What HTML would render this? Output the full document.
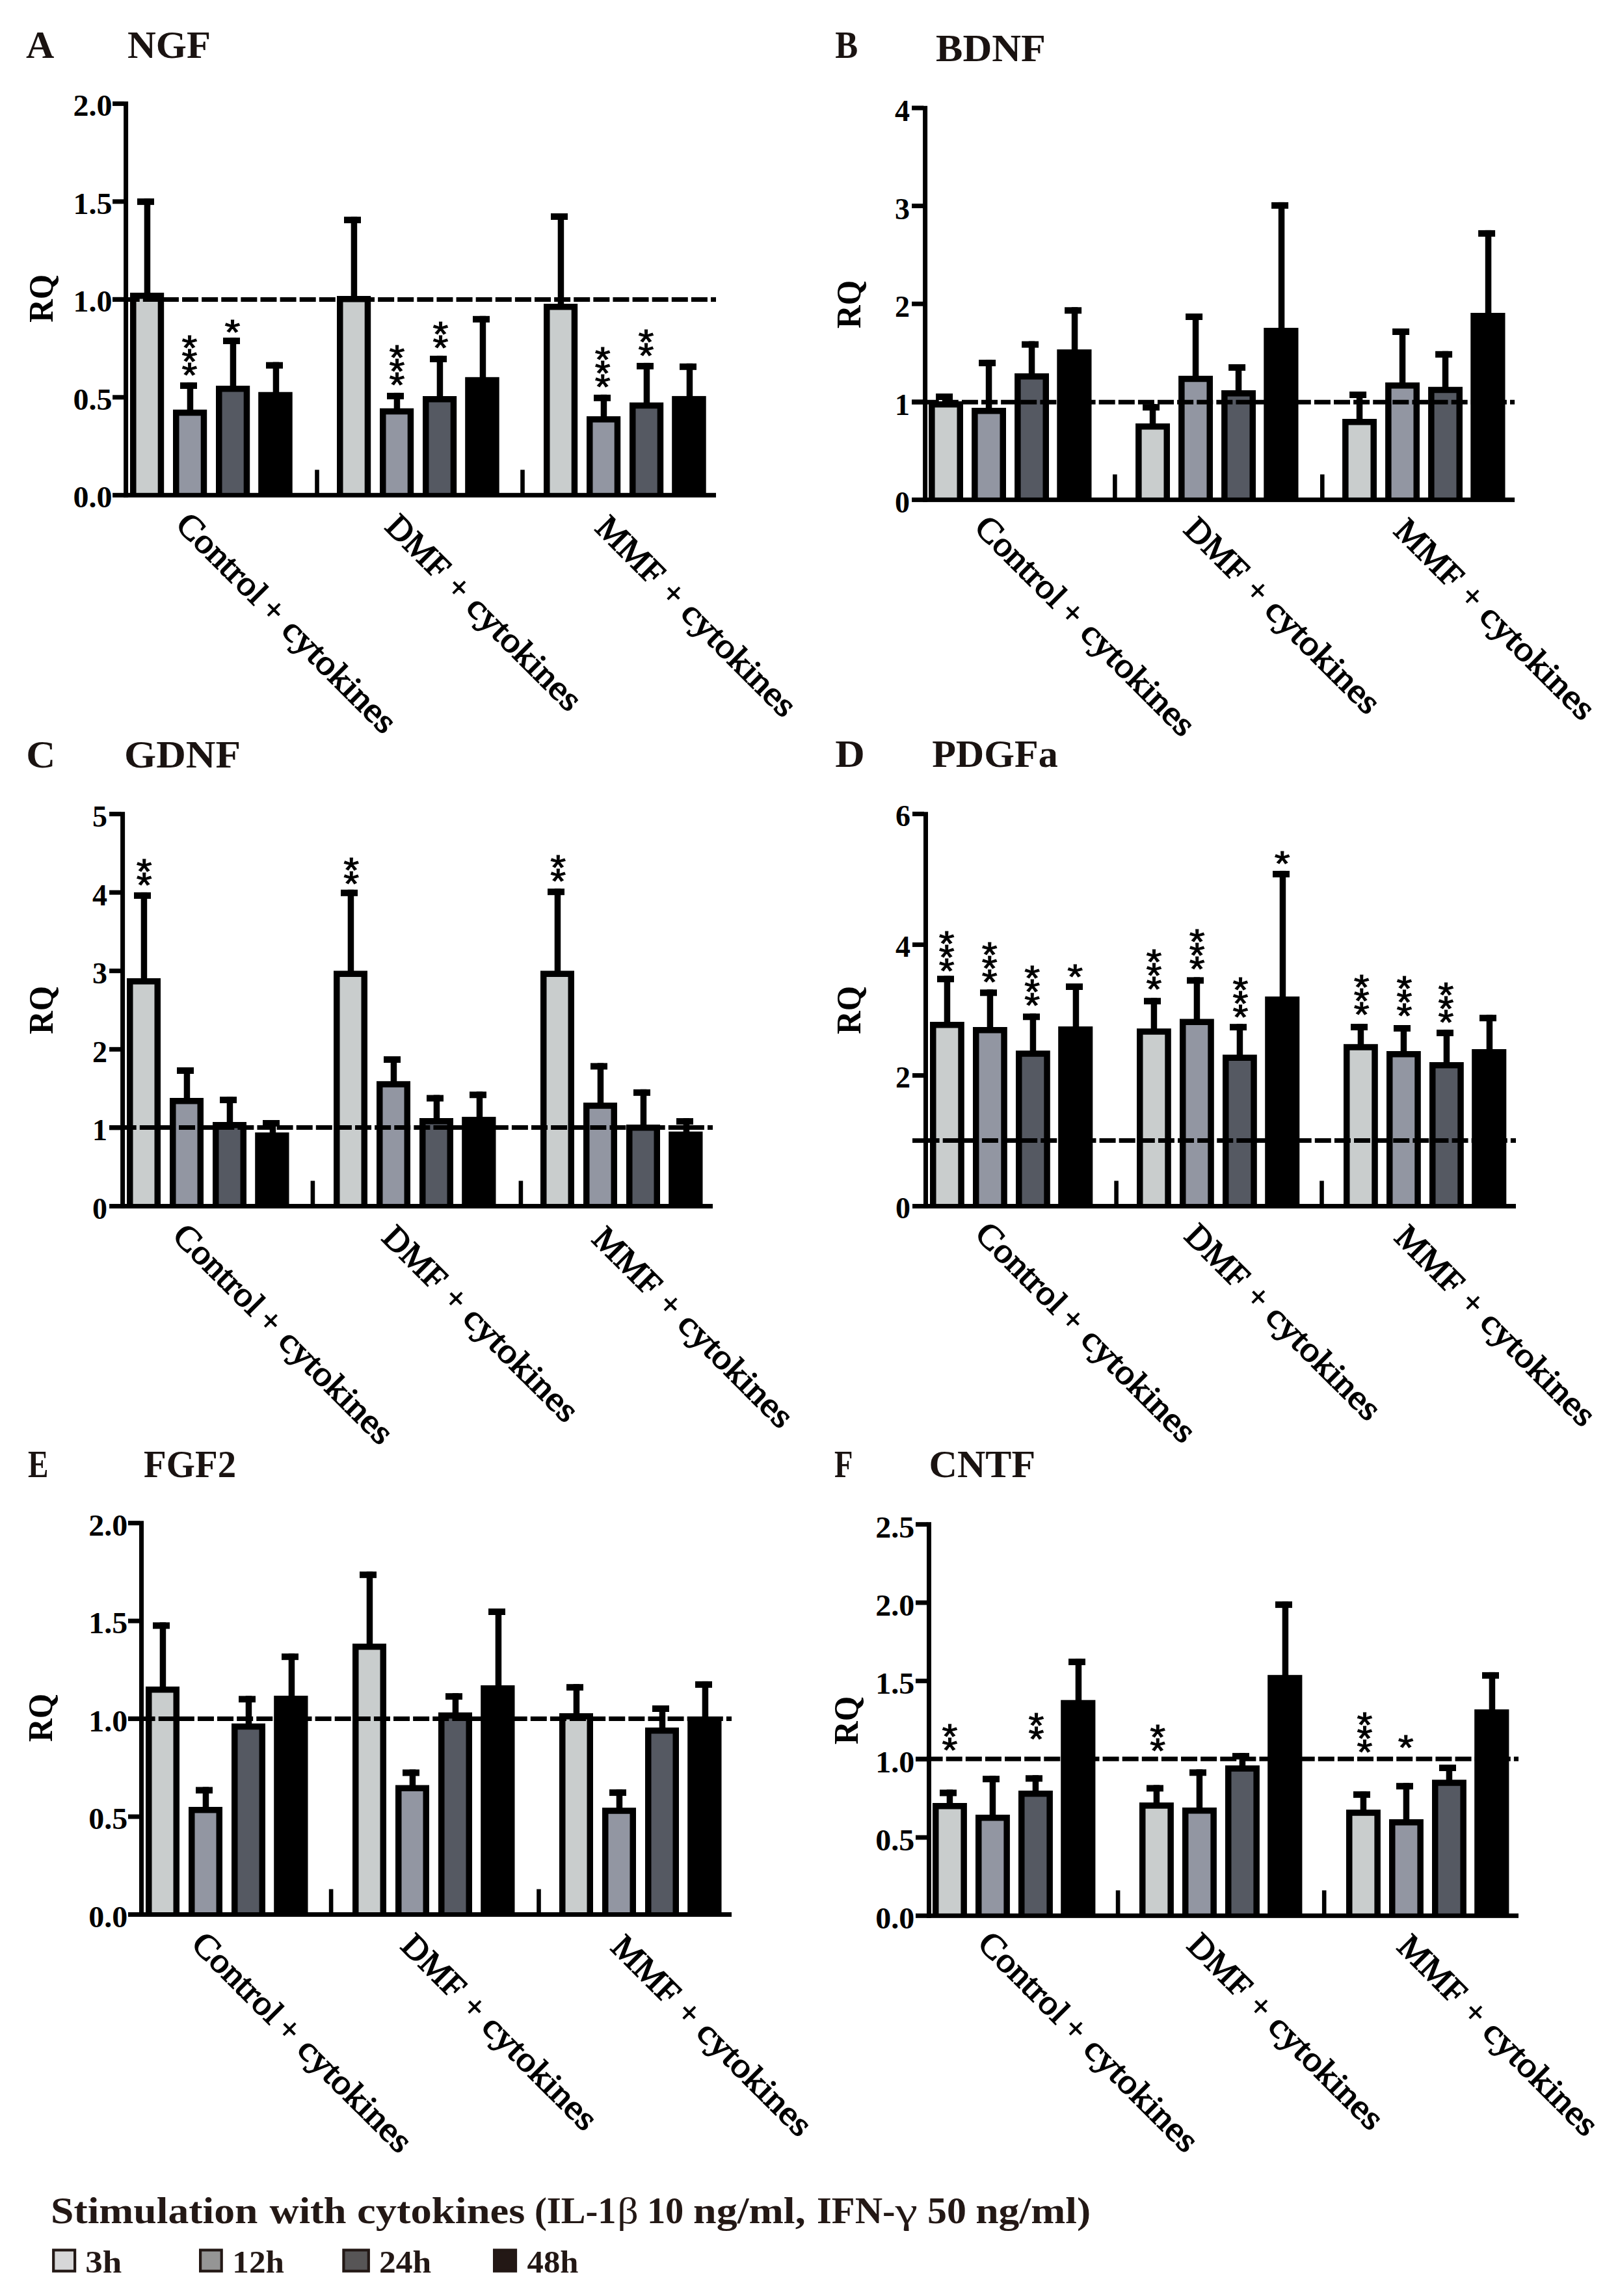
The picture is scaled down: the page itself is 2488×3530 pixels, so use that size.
<!DOCTYPE html>
<html><head><meta charset="utf-8"><title>Figure</title>
<style>
html,body{margin:0;padding:0;background:#fff;}
svg{display:block;}
text{font-family:"Liberation Serif", "DejaVu Serif", serif;font-weight:bold;}
.n{font-weight:normal;}
.xl text{font-weight:normal;stroke:#000;stroke-width:1.5px;}
.st{font-family:"Liberation Sans","DejaVu Sans",sans-serif;font-weight:normal;stroke:#000;stroke-width:1.1px;stroke-linejoin:miter;}
</style></head><body>
<svg width="2488" height="3530" viewBox="0 0 2488 3530" fill="#000">
<rect width="2488" height="3530" fill="#fff"/>
<rect x="221.70" y="305.10" width="9.5" height="147.00"/>
<rect x="211.00" y="305.10" width="26.0" height="10.0"/>
<rect x="204.75" y="454.85" width="42.7" height="306.45" fill="#C9CDCD"/>
<path d="M204.75 761.30V454.85H247.45V761.30" fill="none" stroke="#000" stroke-width="9.5"/>
<rect x="287.70" y="587.90" width="9.5" height="43.80"/>
<rect x="277.00" y="587.90" width="26.0" height="10.0"/>
<rect x="270.75" y="634.45" width="42.7" height="126.85" fill="#9296A2"/>
<path d="M270.75 761.30V634.45H313.45V761.30" fill="none" stroke="#000" stroke-width="9.5"/>
<rect x="353.70" y="519.10" width="9.5" height="76.00"/>
<rect x="343.00" y="519.10" width="26.0" height="10.0"/>
<rect x="336.75" y="597.85" width="42.7" height="163.45" fill="#555962"/>
<path d="M336.75 761.30V597.85H379.45V761.30" fill="none" stroke="#000" stroke-width="9.5"/>
<rect x="419.70" y="556.70" width="9.5" height="48.00"/>
<rect x="409.00" y="556.70" width="26.0" height="10.0"/>
<rect x="397.20" y="602.70" width="52.5" height="158.60"/>
<rect x="539.70" y="333.20" width="9.5" height="123.70"/>
<rect x="529.00" y="333.20" width="26.0" height="10.0"/>
<rect x="522.75" y="459.65" width="42.7" height="301.65" fill="#C9CDCD"/>
<path d="M522.75 761.30V459.65H565.45V761.30" fill="none" stroke="#000" stroke-width="9.5"/>
<rect x="605.70" y="603.90" width="9.5" height="25.80"/>
<rect x="595.00" y="603.90" width="26.0" height="10.0"/>
<rect x="588.75" y="632.45" width="42.7" height="128.85" fill="#9296A2"/>
<path d="M588.75 761.30V632.45H631.45V761.30" fill="none" stroke="#000" stroke-width="9.5"/>
<rect x="671.70" y="546.90" width="9.5" height="64.00"/>
<rect x="661.00" y="546.90" width="26.0" height="10.0"/>
<rect x="654.75" y="613.65" width="42.7" height="147.65" fill="#555962"/>
<path d="M654.75 761.30V613.65H697.45V761.30" fill="none" stroke="#000" stroke-width="9.5"/>
<rect x="737.70" y="485.80" width="9.5" height="96.00"/>
<rect x="727.00" y="485.80" width="26.0" height="10.0"/>
<rect x="715.20" y="579.80" width="52.5" height="181.50"/>
<rect x="857.70" y="328.00" width="9.5" height="141.10"/>
<rect x="847.00" y="328.00" width="26.0" height="10.0"/>
<rect x="840.75" y="471.85" width="42.7" height="289.45" fill="#C9CDCD"/>
<path d="M840.75 761.30V471.85H883.45V761.30" fill="none" stroke="#000" stroke-width="9.5"/>
<rect x="923.70" y="606.80" width="9.5" height="35.20"/>
<rect x="913.00" y="606.80" width="26.0" height="10.0"/>
<rect x="906.75" y="644.75" width="42.7" height="116.55" fill="#9296A2"/>
<path d="M906.75 761.30V644.75H949.45V761.30" fill="none" stroke="#000" stroke-width="9.5"/>
<rect x="989.70" y="557.90" width="9.5" height="62.80"/>
<rect x="979.00" y="557.90" width="26.0" height="10.0"/>
<rect x="972.75" y="623.45" width="42.7" height="137.85" fill="#555962"/>
<path d="M972.75 761.30V623.45H1015.45V761.30" fill="none" stroke="#000" stroke-width="9.5"/>
<rect x="1055.70" y="558.80" width="9.5" height="52.10"/>
<rect x="1045.00" y="558.80" width="26.0" height="10.0"/>
<rect x="1033.20" y="608.90" width="52.5" height="152.40"/>
<rect x="190.10" y="156.00" width="7.0" height="608.80"/>
<rect x="190.10" y="757.80" width="910.90" height="7.0"/>
<rect x="484.20" y="722.30" width="6.6" height="39"/>
<rect x="800.20" y="722.30" width="6.6" height="39"/>
<rect x="173.10" y="155.90" width="18" height="7.0"/>
<text x="172.50" y="178.40" font-size="46" text-anchor="end" textLength="60" lengthAdjust="spacingAndGlyphs">2.0</text>
<rect x="173.10" y="306.38" width="18" height="7.0"/>
<text x="172.50" y="328.88" font-size="46" text-anchor="end" textLength="60" lengthAdjust="spacingAndGlyphs">1.5</text>
<rect x="173.10" y="456.85" width="18" height="7.0"/>
<text x="172.50" y="479.35" font-size="46" text-anchor="end" textLength="60" lengthAdjust="spacingAndGlyphs">1.0</text>
<rect x="173.10" y="607.32" width="18" height="7.0"/>
<text x="172.50" y="629.82" font-size="46" text-anchor="end" textLength="60" lengthAdjust="spacingAndGlyphs">0.5</text>
<rect x="173.10" y="757.80" width="18" height="7.0"/>
<text x="172.50" y="780.30" font-size="46" text-anchor="end" textLength="60" lengthAdjust="spacingAndGlyphs">0.0</text>
<rect x="173.10" y="456.90" width="18" height="7"/>
<line x1="189.70" y1="460.40" x2="1101.00" y2="460.40" stroke="#000" stroke-width="7" stroke-dasharray="25 5.11"/>
<text transform="translate(291.40,553.25) scale(1.06,0.931)" font-size="58" text-anchor="middle" class="st">*</text>
<text transform="translate(291.40,574.25) scale(1.06,0.931)" font-size="58" text-anchor="middle" class="st">*</text>
<text transform="translate(291.40,595.25) scale(1.06,0.931)" font-size="58" text-anchor="middle" class="st">*</text>
<text transform="translate(357.50,528.55) scale(1.06,0.931)" font-size="58" text-anchor="middle" class="st">*</text>
<text transform="translate(610.40,568.35) scale(1.06,0.931)" font-size="58" text-anchor="middle" class="st">*</text>
<text transform="translate(610.40,589.35) scale(1.06,0.931)" font-size="58" text-anchor="middle" class="st">*</text>
<text transform="translate(610.40,610.35) scale(1.06,0.931)" font-size="58" text-anchor="middle" class="st">*</text>
<text transform="translate(677.50,531.95) scale(1.06,0.931)" font-size="58" text-anchor="middle" class="st">*</text>
<text transform="translate(677.50,552.95) scale(1.06,0.931)" font-size="58" text-anchor="middle" class="st">*</text>
<text transform="translate(926.70,571.15) scale(1.06,0.931)" font-size="58" text-anchor="middle" class="st">*</text>
<text transform="translate(926.70,592.15) scale(1.06,0.931)" font-size="58" text-anchor="middle" class="st">*</text>
<text transform="translate(926.70,613.15) scale(1.06,0.931)" font-size="58" text-anchor="middle" class="st">*</text>
<text transform="translate(993.50,544.45) scale(1.06,0.931)" font-size="58" text-anchor="middle" class="st">*</text>
<text transform="translate(993.50,565.45) scale(1.06,0.931)" font-size="58" text-anchor="middle" class="st">*</text>
<text transform="translate(80.90,495.80) rotate(-90)" font-size="53" textLength="74" lengthAdjust="spacingAndGlyphs">RQ</text>
<text x="40" y="88.7" font-size="60" fill="#1a1311">A</text>
<text x="196" y="88.7" font-size="60" fill="#1a1311" textLength="128" lengthAdjust="spacingAndGlyphs">NGF</text>
<g transform="translate(268.00,809.00) rotate(45)" font-size="52.5" class="xl"><text x="0" y="0" textLength="174" lengthAdjust="spacingAndGlyphs">Control</text><text x="185.7" y="0" textLength="27" lengthAdjust="spacingAndGlyphs">+</text><text x="230.0" y="0" textLength="224.5" lengthAdjust="spacingAndGlyphs">cytokines</text></g>
<g transform="translate(590.00,812.00) rotate(45)" font-size="52.5" class="xl"><text x="0" y="0" textLength="115.5" lengthAdjust="spacingAndGlyphs">DMF</text><text x="133.0" y="0" textLength="27" lengthAdjust="spacingAndGlyphs">+</text><text x="176.0" y="0" textLength="226" lengthAdjust="spacingAndGlyphs">cytokines</text></g>
<g transform="translate(913.00,814.00) rotate(45)" font-size="52.5" class="xl"><text x="0" y="0" textLength="125.5" lengthAdjust="spacingAndGlyphs">MMF</text><text x="143.0" y="0" textLength="27" lengthAdjust="spacingAndGlyphs">+</text><text x="186.0" y="0" textLength="226" lengthAdjust="spacingAndGlyphs">cytokines</text></g>
<rect x="1449.80" y="605.00" width="9.5" height="14.00"/>
<rect x="1439.10" y="605.00" width="26.0" height="10.0"/>
<rect x="1432.85" y="621.75" width="43.4" height="146.65" fill="#C9CDCD"/>
<path d="M1432.85 768.40V621.75H1476.25V768.40" fill="none" stroke="#000" stroke-width="9.5"/>
<rect x="1515.80" y="553.10" width="9.5" height="75.80"/>
<rect x="1505.10" y="553.10" width="26.0" height="10.0"/>
<rect x="1498.85" y="631.65" width="43.4" height="136.75" fill="#9296A2"/>
<path d="M1498.85 768.40V631.65H1542.25V768.40" fill="none" stroke="#000" stroke-width="9.5"/>
<rect x="1581.80" y="524.60" width="9.5" height="51.30"/>
<rect x="1571.10" y="524.60" width="26.0" height="10.0"/>
<rect x="1564.85" y="578.65" width="43.4" height="189.75" fill="#555962"/>
<path d="M1564.85 768.40V578.65H1608.25V768.40" fill="none" stroke="#000" stroke-width="9.5"/>
<rect x="1647.80" y="472.30" width="9.5" height="66.90"/>
<rect x="1637.10" y="472.30" width="26.0" height="10.0"/>
<rect x="1625.30" y="537.20" width="53.199999999999996" height="231.20"/>
<rect x="1767.80" y="621.20" width="9.5" height="31.80"/>
<rect x="1757.10" y="621.20" width="26.0" height="10.0"/>
<rect x="1750.85" y="655.75" width="43.4" height="112.65" fill="#C9CDCD"/>
<path d="M1750.85 768.40V655.75H1794.25V768.40" fill="none" stroke="#000" stroke-width="9.5"/>
<rect x="1833.80" y="482.00" width="9.5" height="97.80"/>
<rect x="1823.10" y="482.00" width="26.0" height="10.0"/>
<rect x="1816.85" y="582.55" width="43.4" height="185.85" fill="#9296A2"/>
<path d="M1816.85 768.40V582.55H1860.25V768.40" fill="none" stroke="#000" stroke-width="9.5"/>
<rect x="1899.80" y="560.00" width="9.5" height="42.00"/>
<rect x="1889.10" y="560.00" width="26.0" height="10.0"/>
<rect x="1882.85" y="604.75" width="43.4" height="163.65" fill="#555962"/>
<path d="M1882.85 768.40V604.75H1926.25V768.40" fill="none" stroke="#000" stroke-width="9.5"/>
<rect x="1965.80" y="310.90" width="9.5" height="195.10"/>
<rect x="1955.10" y="310.90" width="26.0" height="10.0"/>
<rect x="1943.30" y="504.00" width="53.199999999999996" height="264.40"/>
<rect x="2085.80" y="602.00" width="9.5" height="44.00"/>
<rect x="2075.10" y="602.00" width="26.0" height="10.0"/>
<rect x="2068.85" y="648.75" width="43.4" height="119.65" fill="#C9CDCD"/>
<path d="M2068.85 768.40V648.75H2112.25V768.40" fill="none" stroke="#000" stroke-width="9.5"/>
<rect x="2151.80" y="505.00" width="9.5" height="85.00"/>
<rect x="2141.10" y="505.00" width="26.0" height="10.0"/>
<rect x="2134.85" y="592.75" width="43.4" height="175.65" fill="#9296A2"/>
<path d="M2134.85 768.40V592.75H2178.25V768.40" fill="none" stroke="#000" stroke-width="9.5"/>
<rect x="2217.80" y="539.80" width="9.5" height="56.90"/>
<rect x="2207.10" y="539.80" width="26.0" height="10.0"/>
<rect x="2200.85" y="599.45" width="43.4" height="168.95" fill="#555962"/>
<path d="M2200.85 768.40V599.45H2244.25V768.40" fill="none" stroke="#000" stroke-width="9.5"/>
<rect x="2283.80" y="353.90" width="9.5" height="129.10"/>
<rect x="2273.10" y="353.90" width="26.0" height="10.0"/>
<rect x="2261.30" y="481.00" width="53.199999999999996" height="287.40"/>
<rect x="1419.10" y="162.80" width="7.0" height="609.10"/>
<rect x="1419.10" y="764.90" width="910.00" height="7.0"/>
<rect x="1711.10" y="729.40" width="6.6" height="39"/>
<rect x="2030.00" y="729.40" width="6.6" height="39"/>
<rect x="1402.10" y="162.50" width="18" height="7.0"/>
<text x="1399.00" y="185.90" font-size="46" text-anchor="end">4</text>
<rect x="1402.10" y="313.10" width="18" height="7.0"/>
<text x="1399.00" y="336.50" font-size="46" text-anchor="end">3</text>
<rect x="1402.10" y="463.70" width="18" height="7.0"/>
<text x="1399.00" y="487.10" font-size="46" text-anchor="end">2</text>
<rect x="1402.10" y="614.30" width="18" height="7.0"/>
<text x="1399.00" y="637.70" font-size="46" text-anchor="end">1</text>
<rect x="1402.10" y="764.90" width="18" height="7.0"/>
<text x="1399.00" y="788.30" font-size="46" text-anchor="end">0</text>
<rect x="1402.10" y="614.85" width="18" height="7"/>
<line x1="1418.70" y1="618.35" x2="2329.10" y2="618.35" stroke="#000" stroke-width="7" stroke-dasharray="25 5.11"/>
<text transform="translate(1323.00,504.90) rotate(-90)" font-size="53" textLength="74" lengthAdjust="spacingAndGlyphs">RQ</text>
<text x="1284.2" y="88.6" font-size="60" fill="#1a1311" textLength="35" lengthAdjust="spacingAndGlyphs">B</text>
<text x="1439" y="94.2" font-size="60" fill="#1a1311" textLength="169" lengthAdjust="spacingAndGlyphs">BDNF</text>
<g transform="translate(1496.10,813.60) rotate(45)" font-size="52.5" class="xl"><text x="0" y="0" textLength="174" lengthAdjust="spacingAndGlyphs">Control</text><text x="185.7" y="0" textLength="27" lengthAdjust="spacingAndGlyphs">+</text><text x="230.0" y="0" textLength="224.5" lengthAdjust="spacingAndGlyphs">cytokines</text></g>
<g transform="translate(1818.10,816.60) rotate(45)" font-size="52.5" class="xl"><text x="0" y="0" textLength="115.5" lengthAdjust="spacingAndGlyphs">DMF</text><text x="133.0" y="0" textLength="27" lengthAdjust="spacingAndGlyphs">+</text><text x="176.0" y="0" textLength="226" lengthAdjust="spacingAndGlyphs">cytokines</text></g>
<g transform="translate(2141.10,818.60) rotate(45)" font-size="52.5" class="xl"><text x="0" y="0" textLength="125.5" lengthAdjust="spacingAndGlyphs">MMF</text><text x="143.0" y="0" textLength="27" lengthAdjust="spacingAndGlyphs">+</text><text x="186.0" y="0" textLength="226" lengthAdjust="spacingAndGlyphs">cytokines</text></g>
<rect x="216.70" y="1371.90" width="9.5" height="134.20"/>
<rect x="206.00" y="1371.90" width="26.0" height="10.0"/>
<rect x="199.75" y="1508.85" width="42.5" height="345.60" fill="#C9CDCD"/>
<path d="M199.75 1854.45V1508.85H242.25V1854.45" fill="none" stroke="#000" stroke-width="9.5"/>
<rect x="282.70" y="1641.00" width="9.5" height="49.00"/>
<rect x="272.00" y="1641.00" width="26.0" height="10.0"/>
<rect x="265.75" y="1692.75" width="42.5" height="161.70" fill="#9296A2"/>
<path d="M265.75 1854.45V1692.75H308.25V1854.45" fill="none" stroke="#000" stroke-width="9.5"/>
<rect x="348.70" y="1686.10" width="9.5" height="40.90"/>
<rect x="338.00" y="1686.10" width="26.0" height="10.0"/>
<rect x="331.75" y="1729.75" width="42.5" height="124.70" fill="#555962"/>
<path d="M331.75 1854.45V1729.75H374.25V1854.45" fill="none" stroke="#000" stroke-width="9.5"/>
<rect x="414.70" y="1722.00" width="9.5" height="21.10"/>
<rect x="404.00" y="1722.00" width="26.0" height="10.0"/>
<rect x="392.20" y="1741.10" width="52.3" height="113.35"/>
<rect x="534.70" y="1367.80" width="9.5" height="126.60"/>
<rect x="524.00" y="1367.80" width="26.0" height="10.0"/>
<rect x="517.75" y="1497.15" width="42.5" height="357.30" fill="#C9CDCD"/>
<path d="M517.75 1854.45V1497.15H560.25V1854.45" fill="none" stroke="#000" stroke-width="9.5"/>
<rect x="600.70" y="1624.00" width="9.5" height="40.20"/>
<rect x="590.00" y="1624.00" width="26.0" height="10.0"/>
<rect x="583.75" y="1666.95" width="42.5" height="187.50" fill="#9296A2"/>
<path d="M583.75 1854.45V1666.95H626.25V1854.45" fill="none" stroke="#000" stroke-width="9.5"/>
<rect x="666.70" y="1683.50" width="9.5" height="37.60"/>
<rect x="656.00" y="1683.50" width="26.0" height="10.0"/>
<rect x="649.75" y="1723.85" width="42.5" height="130.60" fill="#555962"/>
<path d="M649.75 1854.45V1723.85H692.25V1854.45" fill="none" stroke="#000" stroke-width="9.5"/>
<rect x="732.70" y="1678.30" width="9.5" height="40.80"/>
<rect x="722.00" y="1678.30" width="26.0" height="10.0"/>
<rect x="710.20" y="1717.10" width="52.3" height="137.35"/>
<rect x="852.70" y="1366.20" width="9.5" height="128.20"/>
<rect x="842.00" y="1366.20" width="26.0" height="10.0"/>
<rect x="835.75" y="1497.15" width="42.5" height="357.30" fill="#C9CDCD"/>
<path d="M835.75 1854.45V1497.15H878.25V1854.45" fill="none" stroke="#000" stroke-width="9.5"/>
<rect x="918.70" y="1634.40" width="9.5" height="62.90"/>
<rect x="908.00" y="1634.40" width="26.0" height="10.0"/>
<rect x="901.75" y="1700.05" width="42.5" height="154.40" fill="#9296A2"/>
<path d="M901.75 1854.45V1700.05H944.25V1854.45" fill="none" stroke="#000" stroke-width="9.5"/>
<rect x="984.70" y="1674.80" width="9.5" height="56.20"/>
<rect x="974.00" y="1674.80" width="26.0" height="10.0"/>
<rect x="967.75" y="1733.75" width="42.5" height="120.70" fill="#555962"/>
<path d="M967.75 1854.45V1733.75H1010.25V1854.45" fill="none" stroke="#000" stroke-width="9.5"/>
<rect x="1050.70" y="1719.10" width="9.5" height="22.60"/>
<rect x="1040.00" y="1719.10" width="26.0" height="10.0"/>
<rect x="1028.20" y="1739.70" width="52.3" height="114.75"/>
<rect x="185.10" y="1248.20" width="7.0" height="609.75"/>
<rect x="185.10" y="1850.95" width="910.90" height="7.0"/>
<rect x="477.60" y="1815.45" width="6.6" height="39"/>
<rect x="797.60" y="1815.45" width="6.6" height="39"/>
<rect x="168.10" y="1248.05" width="18" height="7.0"/>
<text x="164.90" y="1270.95" font-size="46" text-anchor="end">5</text>
<rect x="168.10" y="1368.63" width="18" height="7.0"/>
<text x="164.90" y="1391.53" font-size="46" text-anchor="end">4</text>
<rect x="168.10" y="1489.21" width="18" height="7.0"/>
<text x="164.90" y="1512.11" font-size="46" text-anchor="end">3</text>
<rect x="168.10" y="1609.79" width="18" height="7.0"/>
<text x="164.90" y="1632.69" font-size="46" text-anchor="end">2</text>
<rect x="168.10" y="1730.37" width="18" height="7.0"/>
<text x="164.90" y="1753.27" font-size="46" text-anchor="end">1</text>
<rect x="168.10" y="1850.95" width="18" height="7.0"/>
<text x="164.90" y="1873.85" font-size="46" text-anchor="end">0</text>
<rect x="168.10" y="1730.00" width="18" height="7"/>
<line x1="184.70" y1="1733.50" x2="1096.00" y2="1733.50" stroke="#000" stroke-width="7" stroke-dasharray="25 5.11"/>
<text transform="translate(221.60,1358.25) scale(1.06,0.931)" font-size="58" text-anchor="middle" class="st">*</text>
<text transform="translate(221.60,1379.25) scale(1.06,0.931)" font-size="58" text-anchor="middle" class="st">*</text>
<text transform="translate(540.30,1355.65) scale(1.06,0.931)" font-size="58" text-anchor="middle" class="st">*</text>
<text transform="translate(540.30,1376.65) scale(1.06,0.931)" font-size="58" text-anchor="middle" class="st">*</text>
<text transform="translate(858.30,1351.65) scale(1.06,0.931)" font-size="58" text-anchor="middle" class="st">*</text>
<text transform="translate(858.30,1372.65) scale(1.06,0.931)" font-size="58" text-anchor="middle" class="st">*</text>
<text transform="translate(80.90,1589.90) rotate(-90)" font-size="53" textLength="74" lengthAdjust="spacingAndGlyphs">RQ</text>
<text x="40.2" y="1179.5" font-size="60" fill="#1a1311" textLength="45" lengthAdjust="spacingAndGlyphs">C</text>
<text x="191" y="1179.5" font-size="60" fill="#1a1311" textLength="179" lengthAdjust="spacingAndGlyphs">GDNF</text>
<g transform="translate(263.10,1902.15) rotate(45)" font-size="52.5" class="xl"><text x="0" y="0" textLength="174" lengthAdjust="spacingAndGlyphs">Control</text><text x="185.7" y="0" textLength="27" lengthAdjust="spacingAndGlyphs">+</text><text x="230.0" y="0" textLength="224.5" lengthAdjust="spacingAndGlyphs">cytokines</text></g>
<g transform="translate(585.10,1905.15) rotate(45)" font-size="52.5" class="xl"><text x="0" y="0" textLength="115.5" lengthAdjust="spacingAndGlyphs">DMF</text><text x="133.0" y="0" textLength="27" lengthAdjust="spacingAndGlyphs">+</text><text x="176.0" y="0" textLength="226" lengthAdjust="spacingAndGlyphs">cytokines</text></g>
<g transform="translate(908.10,1907.15) rotate(45)" font-size="52.5" class="xl"><text x="0" y="0" textLength="125.5" lengthAdjust="spacingAndGlyphs">MMF</text><text x="143.0" y="0" textLength="27" lengthAdjust="spacingAndGlyphs">+</text><text x="186.0" y="0" textLength="226" lengthAdjust="spacingAndGlyphs">cytokines</text></g>
<rect x="1451.70" y="1500.20" width="9.5" height="72.80"/>
<rect x="1441.00" y="1500.20" width="26.0" height="10.0"/>
<rect x="1434.75" y="1575.75" width="43.3" height="278.70" fill="#C9CDCD"/>
<path d="M1434.75 1854.45V1575.75H1478.05V1854.45" fill="none" stroke="#000" stroke-width="9.5"/>
<rect x="1517.70" y="1521.30" width="9.5" height="59.70"/>
<rect x="1507.00" y="1521.30" width="26.0" height="10.0"/>
<rect x="1500.75" y="1583.75" width="43.3" height="270.70" fill="#9296A2"/>
<path d="M1500.75 1854.45V1583.75H1544.05V1854.45" fill="none" stroke="#000" stroke-width="9.5"/>
<rect x="1583.70" y="1558.30" width="9.5" height="58.90"/>
<rect x="1573.00" y="1558.30" width="26.0" height="10.0"/>
<rect x="1566.75" y="1619.95" width="43.3" height="234.50" fill="#555962"/>
<path d="M1566.75 1854.45V1619.95H1610.05V1854.45" fill="none" stroke="#000" stroke-width="9.5"/>
<rect x="1649.70" y="1512.00" width="9.5" height="68.10"/>
<rect x="1639.00" y="1512.00" width="26.0" height="10.0"/>
<rect x="1627.20" y="1578.10" width="53.099999999999994" height="276.35"/>
<rect x="1769.70" y="1534.20" width="9.5" height="49.00"/>
<rect x="1759.00" y="1534.20" width="26.0" height="10.0"/>
<rect x="1752.75" y="1585.95" width="43.3" height="268.50" fill="#C9CDCD"/>
<path d="M1752.75 1854.45V1585.95H1796.05V1854.45" fill="none" stroke="#000" stroke-width="9.5"/>
<rect x="1835.70" y="1502.40" width="9.5" height="66.00"/>
<rect x="1825.00" y="1502.40" width="26.0" height="10.0"/>
<rect x="1818.75" y="1571.15" width="43.3" height="283.30" fill="#9296A2"/>
<path d="M1818.75 1854.45V1571.15H1862.05V1854.45" fill="none" stroke="#000" stroke-width="9.5"/>
<rect x="1901.70" y="1574.20" width="9.5" height="49.20"/>
<rect x="1891.00" y="1574.20" width="26.0" height="10.0"/>
<rect x="1884.75" y="1626.15" width="43.3" height="228.30" fill="#555962"/>
<path d="M1884.75 1854.45V1626.15H1928.05V1854.45" fill="none" stroke="#000" stroke-width="9.5"/>
<rect x="1967.70" y="1338.90" width="9.5" height="195.20"/>
<rect x="1957.00" y="1338.90" width="26.0" height="10.0"/>
<rect x="1945.20" y="1532.10" width="53.099999999999994" height="322.35"/>
<rect x="2087.70" y="1574.10" width="9.5" height="33.20"/>
<rect x="2077.00" y="1574.10" width="26.0" height="10.0"/>
<rect x="2070.75" y="1610.05" width="43.3" height="244.40" fill="#C9CDCD"/>
<path d="M2070.75 1854.45V1610.05H2114.05V1854.45" fill="none" stroke="#000" stroke-width="9.5"/>
<rect x="2153.70" y="1576.00" width="9.5" height="42.10"/>
<rect x="2143.00" y="1576.00" width="26.0" height="10.0"/>
<rect x="2136.75" y="1620.85" width="43.3" height="233.60" fill="#9296A2"/>
<path d="M2136.75 1854.45V1620.85H2180.05V1854.45" fill="none" stroke="#000" stroke-width="9.5"/>
<rect x="2219.70" y="1583.10" width="9.5" height="52.00"/>
<rect x="2209.00" y="1583.10" width="26.0" height="10.0"/>
<rect x="2202.75" y="1637.85" width="43.3" height="216.60" fill="#555962"/>
<path d="M2202.75 1854.45V1637.85H2246.05V1854.45" fill="none" stroke="#000" stroke-width="9.5"/>
<rect x="2285.70" y="1560.20" width="9.5" height="54.80"/>
<rect x="2275.00" y="1560.20" width="26.0" height="10.0"/>
<rect x="2263.20" y="1613.00" width="53.099999999999994" height="241.45"/>
<rect x="1420.00" y="1248.30" width="7.0" height="609.65"/>
<rect x="1420.00" y="1850.95" width="911.00" height="7.0"/>
<rect x="1713.30" y="1815.45" width="6.6" height="39"/>
<rect x="2029.20" y="1815.45" width="6.6" height="39"/>
<rect x="1403.00" y="1247.90" width="18" height="7.0"/>
<text x="1399.90" y="1270.40" font-size="46" text-anchor="end">6</text>
<rect x="1403.00" y="1448.92" width="18" height="7.0"/>
<text x="1399.90" y="1471.42" font-size="46" text-anchor="end">4</text>
<rect x="1403.00" y="1649.93" width="18" height="7.0"/>
<text x="1399.90" y="1672.43" font-size="46" text-anchor="end">2</text>
<rect x="1403.00" y="1850.95" width="18" height="7.0"/>
<text x="1399.90" y="1873.45" font-size="46" text-anchor="end">0</text>
<rect x="1403.00" y="1750.10" width="18" height="7"/>
<line x1="1419.60" y1="1753.60" x2="2331.00" y2="1753.60" stroke="#000" stroke-width="7" stroke-dasharray="25 5.11"/>
<text transform="translate(1455.60,1468.55) scale(1.06,0.931)" font-size="58" text-anchor="middle" class="st">*</text>
<text transform="translate(1455.60,1489.55) scale(1.06,0.931)" font-size="58" text-anchor="middle" class="st">*</text>
<text transform="translate(1455.60,1510.55) scale(1.06,0.931)" font-size="58" text-anchor="middle" class="st">*</text>
<text transform="translate(1521.80,1485.55) scale(1.06,0.931)" font-size="58" text-anchor="middle" class="st">*</text>
<text transform="translate(1521.80,1506.55) scale(1.06,0.931)" font-size="58" text-anchor="middle" class="st">*</text>
<text transform="translate(1521.80,1527.55) scale(1.06,0.931)" font-size="58" text-anchor="middle" class="st">*</text>
<text transform="translate(1587.30,1521.75) scale(1.06,0.931)" font-size="58" text-anchor="middle" class="st">*</text>
<text transform="translate(1587.30,1542.75) scale(1.06,0.931)" font-size="58" text-anchor="middle" class="st">*</text>
<text transform="translate(1587.30,1563.75) scale(1.06,0.931)" font-size="58" text-anchor="middle" class="st">*</text>
<text transform="translate(1653.10,1520.15) scale(1.06,0.931)" font-size="58" text-anchor="middle" class="st">*</text>
<text transform="translate(1774.40,1497.35) scale(1.06,0.931)" font-size="58" text-anchor="middle" class="st">*</text>
<text transform="translate(1774.40,1518.35) scale(1.06,0.931)" font-size="58" text-anchor="middle" class="st">*</text>
<text transform="translate(1774.40,1539.35) scale(1.06,0.931)" font-size="58" text-anchor="middle" class="st">*</text>
<text transform="translate(1840.60,1466.45) scale(1.06,0.931)" font-size="58" text-anchor="middle" class="st">*</text>
<text transform="translate(1840.60,1487.45) scale(1.06,0.931)" font-size="58" text-anchor="middle" class="st">*</text>
<text transform="translate(1840.60,1508.45) scale(1.06,0.931)" font-size="58" text-anchor="middle" class="st">*</text>
<text transform="translate(1907.50,1539.65) scale(1.06,0.931)" font-size="58" text-anchor="middle" class="st">*</text>
<text transform="translate(1907.50,1560.65) scale(1.06,0.931)" font-size="58" text-anchor="middle" class="st">*</text>
<text transform="translate(1907.50,1581.65) scale(1.06,0.931)" font-size="58" text-anchor="middle" class="st">*</text>
<text transform="translate(1971.80,1345.55) scale(1.06,0.931)" font-size="58" text-anchor="middle" class="st">*</text>
<text transform="translate(2093.60,1535.65) scale(1.06,0.931)" font-size="58" text-anchor="middle" class="st">*</text>
<text transform="translate(2093.60,1556.65) scale(1.06,0.931)" font-size="58" text-anchor="middle" class="st">*</text>
<text transform="translate(2093.60,1577.65) scale(1.06,0.931)" font-size="58" text-anchor="middle" class="st">*</text>
<text transform="translate(2159.50,1538.15) scale(1.06,0.931)" font-size="58" text-anchor="middle" class="st">*</text>
<text transform="translate(2159.50,1559.15) scale(1.06,0.931)" font-size="58" text-anchor="middle" class="st">*</text>
<text transform="translate(2159.50,1580.15) scale(1.06,0.931)" font-size="58" text-anchor="middle" class="st">*</text>
<text transform="translate(2223.40,1548.35) scale(1.06,0.931)" font-size="58" text-anchor="middle" class="st">*</text>
<text transform="translate(2223.40,1569.35) scale(1.06,0.931)" font-size="58" text-anchor="middle" class="st">*</text>
<text transform="translate(2223.40,1590.35) scale(1.06,0.931)" font-size="58" text-anchor="middle" class="st">*</text>
<text transform="translate(1323.00,1589.90) rotate(-90)" font-size="53" textLength="74" lengthAdjust="spacingAndGlyphs">RQ</text>
<text x="1284.3" y="1178.8" font-size="60" fill="#1a1311" textLength="45.5" lengthAdjust="spacingAndGlyphs">D</text>
<text x="1433.2" y="1178.8" font-size="60" fill="#1a1311" textLength="193.5" lengthAdjust="spacingAndGlyphs">PDGFa</text>
<g transform="translate(1497.00,1899.65) rotate(45)" font-size="52.5" class="xl"><text x="0" y="0" textLength="174" lengthAdjust="spacingAndGlyphs">Control</text><text x="185.7" y="0" textLength="27" lengthAdjust="spacingAndGlyphs">+</text><text x="230.0" y="0" textLength="224.5" lengthAdjust="spacingAndGlyphs">cytokines</text></g>
<g transform="translate(1819.00,1902.65) rotate(45)" font-size="52.5" class="xl"><text x="0" y="0" textLength="115.5" lengthAdjust="spacingAndGlyphs">DMF</text><text x="133.0" y="0" textLength="27" lengthAdjust="spacingAndGlyphs">+</text><text x="176.0" y="0" textLength="226" lengthAdjust="spacingAndGlyphs">cytokines</text></g>
<g transform="translate(2142.00,1904.65) rotate(45)" font-size="52.5" class="xl"><text x="0" y="0" textLength="125.5" lengthAdjust="spacingAndGlyphs">MMF</text><text x="143.0" y="0" textLength="27" lengthAdjust="spacingAndGlyphs">+</text><text x="186.0" y="0" textLength="226" lengthAdjust="spacingAndGlyphs">cytokines</text></g>
<rect x="245.70" y="2494.30" width="9.5" height="100.60"/>
<rect x="235.00" y="2494.30" width="26.0" height="10.0"/>
<rect x="228.75" y="2597.65" width="42.5" height="345.85" fill="#C9CDCD"/>
<path d="M228.75 2943.50V2597.65H271.25V2943.50" fill="none" stroke="#000" stroke-width="9.5"/>
<rect x="311.70" y="2747.40" width="9.5" height="32.60"/>
<rect x="301.00" y="2747.40" width="26.0" height="10.0"/>
<rect x="294.75" y="2782.75" width="42.5" height="160.75" fill="#9296A2"/>
<path d="M294.75 2943.50V2782.75H337.25V2943.50" fill="none" stroke="#000" stroke-width="9.5"/>
<rect x="377.70" y="2607.40" width="9.5" height="44.40"/>
<rect x="367.00" y="2607.40" width="26.0" height="10.0"/>
<rect x="360.75" y="2654.55" width="42.5" height="288.95" fill="#555962"/>
<path d="M360.75 2943.50V2654.55H403.25V2943.50" fill="none" stroke="#000" stroke-width="9.5"/>
<rect x="443.70" y="2542.20" width="9.5" height="66.90"/>
<rect x="433.00" y="2542.20" width="26.0" height="10.0"/>
<rect x="421.20" y="2607.10" width="52.3" height="336.40"/>
<rect x="563.70" y="2416.20" width="9.5" height="112.90"/>
<rect x="553.00" y="2416.20" width="26.0" height="10.0"/>
<rect x="546.75" y="2531.85" width="42.5" height="411.65" fill="#C9CDCD"/>
<path d="M546.75 2943.50V2531.85H589.25V2943.50" fill="none" stroke="#000" stroke-width="9.5"/>
<rect x="629.70" y="2720.50" width="9.5" height="26.10"/>
<rect x="619.00" y="2720.50" width="26.0" height="10.0"/>
<rect x="612.75" y="2749.35" width="42.5" height="194.15" fill="#9296A2"/>
<path d="M612.75 2943.50V2749.35H655.25V2943.50" fill="none" stroke="#000" stroke-width="9.5"/>
<rect x="695.70" y="2603.20" width="9.5" height="31.60"/>
<rect x="685.00" y="2603.20" width="26.0" height="10.0"/>
<rect x="678.75" y="2637.55" width="42.5" height="305.95" fill="#555962"/>
<path d="M678.75 2943.50V2637.55H721.25V2943.50" fill="none" stroke="#000" stroke-width="9.5"/>
<rect x="761.70" y="2473.00" width="9.5" height="120.10"/>
<rect x="751.00" y="2473.00" width="26.0" height="10.0"/>
<rect x="739.20" y="2591.10" width="52.3" height="352.40"/>
<rect x="881.70" y="2589.20" width="9.5" height="46.80"/>
<rect x="871.00" y="2589.20" width="26.0" height="10.0"/>
<rect x="864.75" y="2638.75" width="42.5" height="304.75" fill="#C9CDCD"/>
<path d="M864.75 2943.50V2638.75H907.25V2943.50" fill="none" stroke="#000" stroke-width="9.5"/>
<rect x="947.70" y="2751.10" width="9.5" height="30.20"/>
<rect x="937.00" y="2751.10" width="26.0" height="10.0"/>
<rect x="930.75" y="2784.05" width="42.5" height="159.45" fill="#9296A2"/>
<path d="M930.75 2943.50V2784.05H973.25V2943.50" fill="none" stroke="#000" stroke-width="9.5"/>
<rect x="1013.70" y="2622.00" width="9.5" height="36.00"/>
<rect x="1003.00" y="2622.00" width="26.0" height="10.0"/>
<rect x="996.75" y="2660.75" width="42.5" height="282.75" fill="#555962"/>
<path d="M996.75 2943.50V2660.75H1039.25V2943.50" fill="none" stroke="#000" stroke-width="9.5"/>
<rect x="1079.70" y="2584.90" width="9.5" height="56.10"/>
<rect x="1069.00" y="2584.90" width="26.0" height="10.0"/>
<rect x="1057.20" y="2639.00" width="52.3" height="304.50"/>
<rect x="214.00" y="2338.30" width="7.0" height="608.70"/>
<rect x="214.00" y="2940.00" width="911.00" height="7.0"/>
<rect x="505.80" y="2904.50" width="6.6" height="39"/>
<rect x="825.20" y="2904.50" width="6.6" height="39"/>
<rect x="197.00" y="2338.15" width="18" height="7.0"/>
<text x="196.30" y="2360.65" font-size="46" text-anchor="end" textLength="60" lengthAdjust="spacingAndGlyphs">2.0</text>
<rect x="197.00" y="2488.61" width="18" height="7.0"/>
<text x="196.30" y="2511.11" font-size="46" text-anchor="end" textLength="60" lengthAdjust="spacingAndGlyphs">1.5</text>
<rect x="197.00" y="2639.07" width="18" height="7.0"/>
<text x="196.30" y="2661.57" font-size="46" text-anchor="end" textLength="60" lengthAdjust="spacingAndGlyphs">1.0</text>
<rect x="197.00" y="2789.54" width="18" height="7.0"/>
<text x="196.30" y="2812.04" font-size="46" text-anchor="end" textLength="60" lengthAdjust="spacingAndGlyphs">0.5</text>
<rect x="197.00" y="2940.00" width="18" height="7.0"/>
<text x="196.30" y="2962.50" font-size="46" text-anchor="end" textLength="60" lengthAdjust="spacingAndGlyphs">0.0</text>
<rect x="197.00" y="2638.90" width="18" height="7"/>
<line x1="213.60" y1="2642.40" x2="1125.00" y2="2642.40" stroke="#000" stroke-width="7" stroke-dasharray="25 5.11"/>
<text transform="translate(80.20,2678.00) rotate(-90)" font-size="53" textLength="74" lengthAdjust="spacingAndGlyphs">RQ</text>
<text x="43.1" y="2270.9" font-size="60" fill="#1a1311" textLength="31.5" lengthAdjust="spacingAndGlyphs">E</text>
<text x="221.1" y="2270.9" font-size="60" fill="#1a1311" textLength="142" lengthAdjust="spacingAndGlyphs">FGF2</text>
<g transform="translate(292.00,2991.20) rotate(45)" font-size="52.5" class="xl"><text x="0" y="0" textLength="174" lengthAdjust="spacingAndGlyphs">Control</text><text x="185.7" y="0" textLength="27" lengthAdjust="spacingAndGlyphs">+</text><text x="230.0" y="0" textLength="224.5" lengthAdjust="spacingAndGlyphs">cytokines</text></g>
<g transform="translate(614.00,2994.20) rotate(45)" font-size="52.5" class="xl"><text x="0" y="0" textLength="115.5" lengthAdjust="spacingAndGlyphs">DMF</text><text x="133.0" y="0" textLength="27" lengthAdjust="spacingAndGlyphs">+</text><text x="176.0" y="0" textLength="226" lengthAdjust="spacingAndGlyphs">cytokines</text></g>
<g transform="translate(937.00,2996.20) rotate(45)" font-size="52.5" class="xl"><text x="0" y="0" textLength="125.5" lengthAdjust="spacingAndGlyphs">MMF</text><text x="143.0" y="0" textLength="27" lengthAdjust="spacingAndGlyphs">+</text><text x="186.0" y="0" textLength="226" lengthAdjust="spacingAndGlyphs">cytokines</text></g>
<rect x="1455.70" y="2751.50" width="9.5" height="22.40"/>
<rect x="1445.00" y="2751.50" width="26.0" height="10.0"/>
<rect x="1438.75" y="2776.65" width="43.4" height="168.70" fill="#C9CDCD"/>
<path d="M1438.75 2945.35V2776.65H1482.15V2945.35" fill="none" stroke="#000" stroke-width="9.5"/>
<rect x="1521.70" y="2730.20" width="9.5" height="61.70"/>
<rect x="1511.00" y="2730.20" width="26.0" height="10.0"/>
<rect x="1504.75" y="2794.65" width="43.4" height="150.70" fill="#9296A2"/>
<path d="M1504.75 2945.35V2794.65H1548.15V2945.35" fill="none" stroke="#000" stroke-width="9.5"/>
<rect x="1587.70" y="2729.30" width="9.5" height="25.80"/>
<rect x="1577.00" y="2729.30" width="26.0" height="10.0"/>
<rect x="1570.75" y="2757.85" width="43.4" height="187.50" fill="#555962"/>
<path d="M1570.75 2945.35V2757.85H1614.15V2945.35" fill="none" stroke="#000" stroke-width="9.5"/>
<rect x="1653.70" y="2550.10" width="9.5" height="65.60"/>
<rect x="1643.00" y="2550.10" width="26.0" height="10.0"/>
<rect x="1631.20" y="2613.70" width="53.199999999999996" height="331.65"/>
<rect x="1773.70" y="2744.40" width="9.5" height="28.90"/>
<rect x="1763.00" y="2744.40" width="26.0" height="10.0"/>
<rect x="1756.75" y="2776.05" width="43.4" height="169.30" fill="#C9CDCD"/>
<path d="M1756.75 2945.35V2776.05H1800.15V2945.35" fill="none" stroke="#000" stroke-width="9.5"/>
<rect x="1839.70" y="2720.30" width="9.5" height="60.70"/>
<rect x="1829.00" y="2720.30" width="26.0" height="10.0"/>
<rect x="1822.75" y="2783.75" width="43.4" height="161.60" fill="#9296A2"/>
<path d="M1822.75 2945.35V2783.75H1866.15V2945.35" fill="none" stroke="#000" stroke-width="9.5"/>
<rect x="1905.70" y="2695.10" width="9.5" height="21.20"/>
<rect x="1895.00" y="2695.10" width="26.0" height="10.0"/>
<rect x="1888.75" y="2719.05" width="43.4" height="226.30" fill="#555962"/>
<path d="M1888.75 2945.35V2719.05H1932.15V2945.35" fill="none" stroke="#000" stroke-width="9.5"/>
<rect x="1971.70" y="2462.10" width="9.5" height="115.10"/>
<rect x="1961.00" y="2462.10" width="26.0" height="10.0"/>
<rect x="1949.20" y="2575.20" width="53.199999999999996" height="370.15"/>
<rect x="2091.70" y="2754.10" width="9.5" height="30.20"/>
<rect x="2081.00" y="2754.10" width="26.0" height="10.0"/>
<rect x="2074.75" y="2787.05" width="43.4" height="158.30" fill="#C9CDCD"/>
<path d="M2074.75 2945.35V2787.05H2118.15V2945.35" fill="none" stroke="#000" stroke-width="9.5"/>
<rect x="2157.70" y="2741.20" width="9.5" height="57.90"/>
<rect x="2147.00" y="2741.20" width="26.0" height="10.0"/>
<rect x="2140.75" y="2801.85" width="43.4" height="143.50" fill="#9296A2"/>
<path d="M2140.75 2945.35V2801.85H2184.15V2945.35" fill="none" stroke="#000" stroke-width="9.5"/>
<rect x="2223.70" y="2713.00" width="9.5" height="25.20"/>
<rect x="2213.00" y="2713.00" width="26.0" height="10.0"/>
<rect x="2206.75" y="2740.95" width="43.4" height="204.40" fill="#555962"/>
<path d="M2206.75 2945.35V2740.95H2250.15V2945.35" fill="none" stroke="#000" stroke-width="9.5"/>
<rect x="2289.70" y="2570.90" width="9.5" height="59.20"/>
<rect x="2279.00" y="2570.90" width="26.0" height="10.0"/>
<rect x="2267.20" y="2628.10" width="53.199999999999996" height="317.25"/>
<rect x="1425.00" y="2340.20" width="7.0" height="608.65"/>
<rect x="1425.00" y="2941.85" width="910.00" height="7.0"/>
<rect x="1715.80" y="2906.35" width="6.6" height="39"/>
<rect x="2032.90" y="2906.35" width="6.6" height="39"/>
<rect x="1408.00" y="2340.20" width="18" height="7.0"/>
<text x="1406.30" y="2363.60" font-size="46" text-anchor="end" textLength="60" lengthAdjust="spacingAndGlyphs">2.5</text>
<rect x="1408.00" y="2460.53" width="18" height="7.0"/>
<text x="1406.30" y="2483.93" font-size="46" text-anchor="end" textLength="60" lengthAdjust="spacingAndGlyphs">2.0</text>
<rect x="1408.00" y="2580.86" width="18" height="7.0"/>
<text x="1406.30" y="2604.26" font-size="46" text-anchor="end" textLength="60" lengthAdjust="spacingAndGlyphs">1.5</text>
<rect x="1408.00" y="2701.19" width="18" height="7.0"/>
<text x="1406.30" y="2724.59" font-size="46" text-anchor="end" textLength="60" lengthAdjust="spacingAndGlyphs">1.0</text>
<rect x="1408.00" y="2821.52" width="18" height="7.0"/>
<text x="1406.30" y="2844.92" font-size="46" text-anchor="end" textLength="60" lengthAdjust="spacingAndGlyphs">0.5</text>
<rect x="1408.00" y="2941.85" width="18" height="7.0"/>
<text x="1406.30" y="2965.25" font-size="46" text-anchor="end" textLength="60" lengthAdjust="spacingAndGlyphs">0.0</text>
<rect x="1408.00" y="2700.80" width="18" height="7"/>
<line x1="1424.60" y1="2704.30" x2="2335.00" y2="2704.30" stroke="#000" stroke-width="7" stroke-dasharray="25 5.11"/>
<text transform="translate(1460.45,2687.75) scale(1.06,0.931)" font-size="58" text-anchor="middle" class="st">*</text>
<text transform="translate(1460.45,2708.75) scale(1.06,0.931)" font-size="58" text-anchor="middle" class="st">*</text>
<text transform="translate(1593.55,2670.75) scale(1.06,0.931)" font-size="58" text-anchor="middle" class="st">*</text>
<text transform="translate(1593.55,2691.75) scale(1.06,0.931)" font-size="58" text-anchor="middle" class="st">*</text>
<text transform="translate(1780.25,2689.25) scale(1.06,0.931)" font-size="58" text-anchor="middle" class="st">*</text>
<text transform="translate(1780.25,2710.25) scale(1.06,0.931)" font-size="58" text-anchor="middle" class="st">*</text>
<text transform="translate(2098.45,2669.65) scale(1.06,0.931)" font-size="58" text-anchor="middle" class="st">*</text>
<text transform="translate(2098.45,2690.65) scale(1.06,0.931)" font-size="58" text-anchor="middle" class="st">*</text>
<text transform="translate(2098.45,2711.65) scale(1.06,0.931)" font-size="58" text-anchor="middle" class="st">*</text>
<text transform="translate(2161.65,2704.55) scale(1.06,0.931)" font-size="58" text-anchor="middle" class="st">*</text>
<text transform="translate(1319.00,2682.00) rotate(-90)" font-size="53" textLength="74" lengthAdjust="spacingAndGlyphs">RQ</text>
<text x="1283.1" y="2270.9" font-size="60" fill="#1a1311" textLength="28.5" lengthAdjust="spacingAndGlyphs">F</text>
<text x="1428.6" y="2270.9" font-size="60" fill="#1a1311" textLength="163.5" lengthAdjust="spacingAndGlyphs">CNTF</text>
<g transform="translate(1501.00,2990.55) rotate(45)" font-size="52.5" class="xl"><text x="0" y="0" textLength="174" lengthAdjust="spacingAndGlyphs">Control</text><text x="185.7" y="0" textLength="27" lengthAdjust="spacingAndGlyphs">+</text><text x="230.0" y="0" textLength="224.5" lengthAdjust="spacingAndGlyphs">cytokines</text></g>
<g transform="translate(1823.00,2993.55) rotate(45)" font-size="52.5" class="xl"><text x="0" y="0" textLength="115.5" lengthAdjust="spacingAndGlyphs">DMF</text><text x="133.0" y="0" textLength="27" lengthAdjust="spacingAndGlyphs">+</text><text x="176.0" y="0" textLength="226" lengthAdjust="spacingAndGlyphs">cytokines</text></g>
<g transform="translate(2146.00,2995.55) rotate(45)" font-size="52.5" class="xl"><text x="0" y="0" textLength="125.5" lengthAdjust="spacingAndGlyphs">MMF</text><text x="143.0" y="0" textLength="27" lengthAdjust="spacingAndGlyphs">+</text><text x="186.0" y="0" textLength="226" lengthAdjust="spacingAndGlyphs">cytokines</text></g>
<text x="78" y="3417.8" font-size="58" fill="#231815" textLength="318.5" lengthAdjust="spacingAndGlyphs">Stimulation</text>
<text x="414.6" y="3417.8" font-size="58" fill="#231815" textLength="118" lengthAdjust="spacingAndGlyphs">with</text>
<text x="549" y="3417.8" font-size="58" fill="#231815" textLength="258.4" lengthAdjust="spacingAndGlyphs">cytokines</text>
<text x="822" y="3417.8" font-size="58" fill="#231815" textLength="125.5" lengthAdjust="spacingAndGlyphs">(IL-1</text>
<text x="949.2" y="3417.8" font-size="58" fill="#231815" textLength="32.5" lengthAdjust="spacingAndGlyphs" class="n">β</text>
<text x="994.9" y="3417.8" font-size="58" fill="#231815" textLength="56.4" lengthAdjust="spacingAndGlyphs">10</text>
<text x="1066.1" y="3417.8" font-size="58" fill="#231815" textLength="172.6" lengthAdjust="spacingAndGlyphs">ng/ml,</text>
<text x="1256" y="3417.8" font-size="58" fill="#231815" textLength="120.6" lengthAdjust="spacingAndGlyphs">IFN-</text>
<text x="1376.6" y="3417.8" font-size="58" fill="#231815" textLength="34.5" lengthAdjust="spacingAndGlyphs" class="n">γ</text>
<text x="1426" y="3417.8" font-size="58" fill="#231815" textLength="59.9" lengthAdjust="spacingAndGlyphs">50</text>
<text x="1500.2" y="3417.8" font-size="58" fill="#231815" textLength="177" lengthAdjust="spacingAndGlyphs">ng/ml)</text>
<rect x="82.20" y="3459.40" width="32.90" height="32.30" fill="#D7D7D8" stroke="#231815" stroke-width="4.2"/>
<text x="131.2" y="3493.8" font-size="48" fill="#231815" textLength="56" lengthAdjust="spacingAndGlyphs">3h</text>
<rect x="308.10" y="3459.40" width="32.60" height="32.30" fill="#959595" stroke="#231815" stroke-width="4.2"/>
<text x="357.3" y="3493.8" font-size="48" fill="#231815" textLength="79.7" lengthAdjust="spacingAndGlyphs">12h</text>
<rect x="528.40" y="3459.40" width="38.40" height="32.30" fill="#575556" stroke="#231815" stroke-width="4.2"/>
<text x="583" y="3493.8" font-size="48" fill="#231815" textLength="80.2" lengthAdjust="spacingAndGlyphs">24h</text>
<rect x="760.10" y="3459.40" width="32.90" height="32.30" fill="#231815" stroke="#231815" stroke-width="4.2"/>
<text x="810.6" y="3493.8" font-size="48" fill="#231815" textLength="78.8" lengthAdjust="spacingAndGlyphs">48h</text>
</svg>
</body></html>
